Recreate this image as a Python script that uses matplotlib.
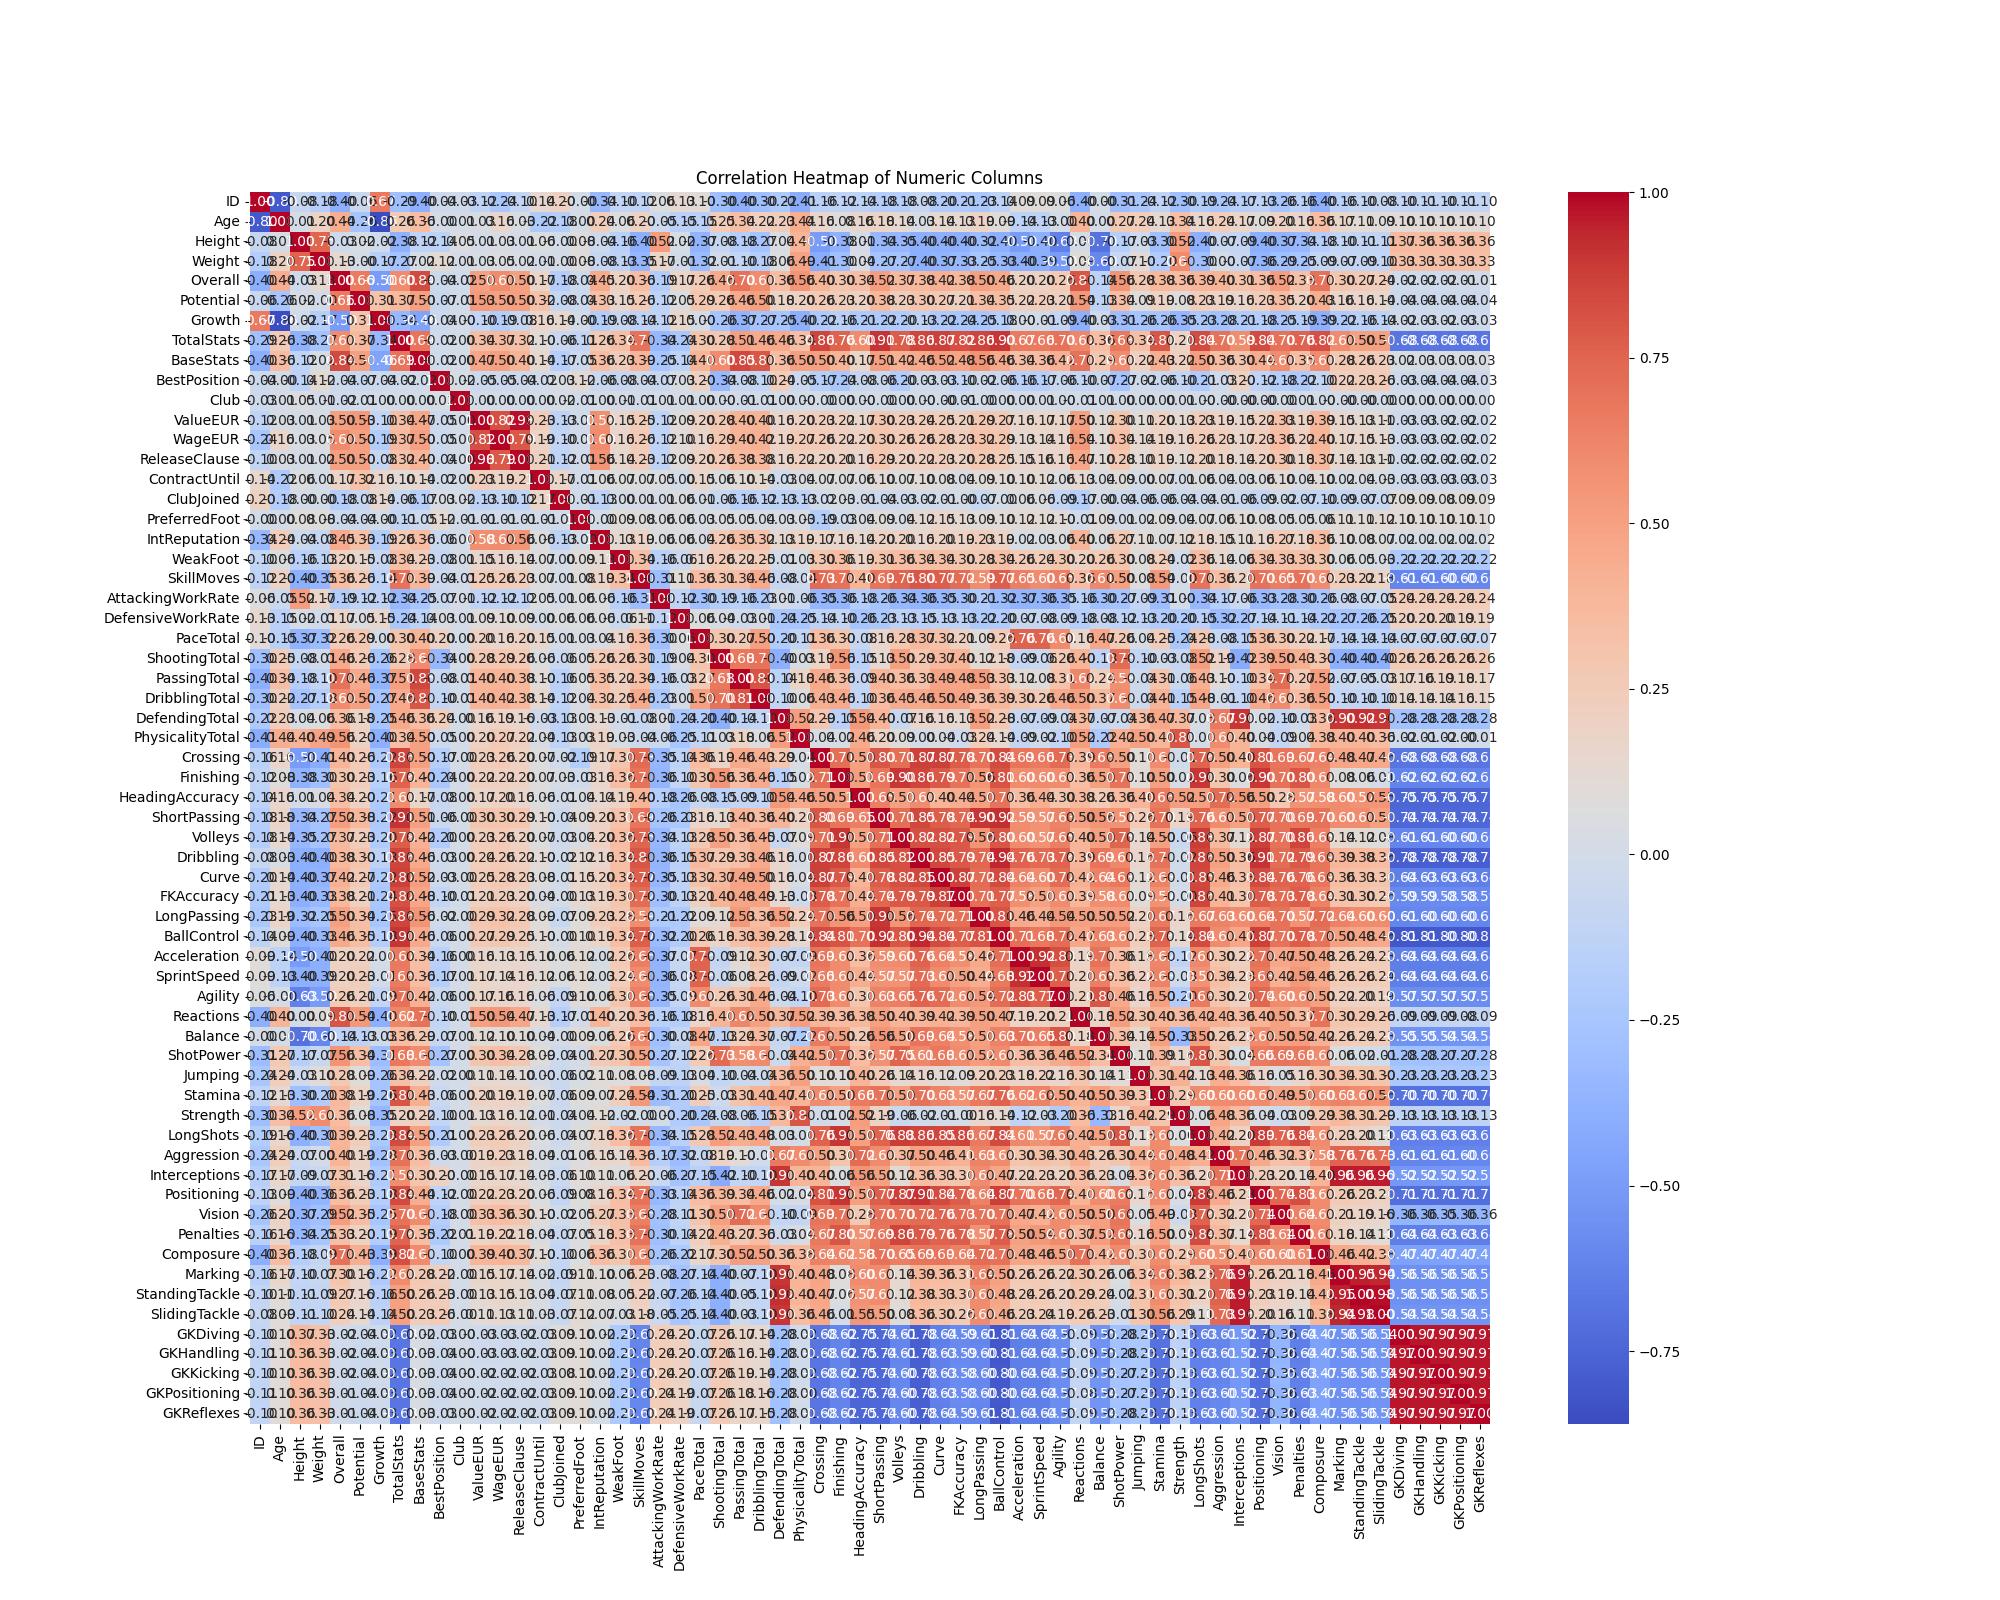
import numpy as np
import pandas as pd
import matplotlib
matplotlib.use('Agg')
import matplotlib.pyplot as plt
import seaborn as sns

columns = ['ID', 'Age', 'Height', 'Weight', 'Overall', 'Potential', 'Growth', 'TotalStats', 'BaseStats',
           'BestPosition', 'Club', 'ValueEUR', 'WageEUR', 'ReleaseClause', 'ContractUntil', 'ClubJoined',
           'PreferredFoot', 'IntReputation', 'WeakFoot', 'SkillMoves', 'AttackingWorkRate', 'DefensiveWorkRate',
           'PaceTotal', 'ShootingTotal', 'PassingTotal', 'DribblingTotal', 'DefendingTotal', 'PhysicalityTotal',
           'Crossing', 'Finishing', 'HeadingAccuracy', 'ShortPassing', 'Volleys', 'Dribbling', 'Curve',
           'FKAccuracy', 'LongPassing', 'BallControl', 'Acceleration', 'SprintSpeed', 'Agility', 'Reactions',
           'Balance', 'ShotPower', 'Jumping', 'Stamina', 'Strength', 'LongShots', 'Aggression', 'Interceptions',
           'Positioning', 'Vision', 'Penalties', 'Composure', 'Marking', 'StandingTackle', 'SlidingTackle',
           'GKDiving', 'GKHandling', 'GKKicking', 'GKPositioning', 'GKReflexes']

# Upper triangle of the correlation table, one list per row.
# Each list starts just right of the diagonal.
r00 = [-0.80,-0.08,-0.18,-0.40,-0.06,0.67,-0.29,-0.40,-0.04,-0.03,
       -0.12,-0.24,-0.10,0.14,0.20,-0.00,-0.34,-0.10,-0.12,0.06,
       0.13,0.10,-0.30,-0.40,-0.30,-0.22,-0.41,-0.16,-0.12,-0.14,
       -0.18,-0.18,-0.08,-0.20,-0.21,-0.23,-0.14,0.09,0.09,0.06,
       -0.40,-0.00,-0.31,-0.24,-0.12,-0.30,-0.19,-0.24,-0.17,-0.13,
       -0.26,-0.16,-0.40,-0.16,-0.10,-0.08,-0.10,-0.11,-0.10,-0.11,-0.10]
r01 = [0.01,0.20,0.44,-0.26,-0.86,0.26,0.36,-0.00,0.01,
       0.03,0.16,0.03,-0.22,-0.18,0.00,0.24,0.06,0.20,-0.05,
       -0.15,-0.15,0.25,0.34,0.22,0.23,0.44,0.16,0.08,0.16,
       0.18,0.14,0.03,0.14,0.13,0.19,0.09,-0.14,-0.13,-0.00,
       0.40,0.00,0.27,0.24,0.13,0.34,0.16,0.24,0.17,0.09,
       0.20,0.16,0.36,0.17,0.11,0.09,0.10,0.10,0.10,0.10,0.10]
r02 = [0.75,-0.03,0.02,-0.02,-0.38,-0.12,-0.14,0.05,
       0.01,0.03,0.01,0.06,-0.00,0.08,-0.04,-0.16,-0.40,0.52,
       0.02,-0.37,-0.08,-0.18,-0.27,0.04,0.40,-0.50,-0.38,0.01,
       -0.34,-0.35,-0.40,-0.40,-0.40,-0.32,-0.40,-0.50,-0.40,-0.63,
       0.00,-0.70,-0.17,-0.03,-0.30,0.52,-0.40,-0.07,-0.09,-0.40,
       -0.37,-0.34,-0.18,-0.10,-0.11,-0.11,0.37,0.36,0.36,0.36,0.36]
r03 = [0.13,-0.00,-0.17,-0.27,0.02,0.12,0.01,
       0.03,0.05,0.02,0.01,-0.00,0.08,-0.08,-0.13,-0.35,0.17,
       -0.01,-0.32,-0.01,-0.10,-0.18,0.06,0.49,-0.41,-0.30,0.04,
       -0.27,-0.27,-0.40,-0.37,-0.33,-0.25,-0.33,-0.40,-0.39,-0.50,
       0.09,-0.60,-0.07,0.10,-0.20,0.60,-0.30,0.00,-0.07,-0.36,
       -0.29,-0.25,-0.09,-0.07,-0.09,-0.10,0.33,0.33,0.33,0.33,0.33]
r04 = [0.66,-0.50,0.60,0.84,-0.04,-0.02,
       0.50,0.60,0.50,0.17,-0.18,-0.04,0.45,0.20,0.36,-0.19,
       0.17,0.26,0.46,0.70,0.60,0.36,0.56,0.40,0.30,0.34,
       0.52,0.37,0.38,0.42,0.38,0.50,0.46,0.20,0.20,0.26,
       0.80,-0.14,0.56,0.28,0.38,0.36,0.39,0.40,0.31,0.36,
       0.52,0.33,0.70,0.30,0.27,0.24,-0.02,-0.02,-0.02,-0.01,-0.01]
r05 = [0.31,0.37,0.50,-0.07,-0.01,
       0.53,0.50,0.50,0.32,-0.08,-0.04,0.33,0.15,0.26,-0.12,
       0.05,0.29,0.26,0.46,0.50,0.18,0.20,0.26,0.23,0.20,
       0.38,0.23,0.30,0.27,0.21,0.34,0.35,0.22,0.23,0.21,
       0.54,-0.13,0.34,0.09,0.19,0.08,0.23,0.19,0.16,0.23,
       0.35,0.20,0.43,0.16,0.16,0.14,-0.04,-0.04,-0.04,-0.04,-0.04]
r06 = [-0.34,-0.46,-0.04,0.00,
       -0.10,-0.19,-0.08,0.16,0.14,-0.00,-0.19,-0.08,-0.14,-0.12,
       0.15,0.00,-0.26,-0.37,-0.27,-0.25,-0.40,-0.22,-0.16,-0.21,
       -0.22,-0.20,-0.13,-0.22,-0.24,-0.25,-0.18,0.00,-0.01,-0.09,
       -0.40,-0.03,-0.31,-0.26,-0.26,-0.35,-0.23,-0.28,-0.21,-0.18,
       -0.25,-0.19,-0.39,-0.22,-0.16,-0.14,-0.02,-0.03,-0.02,-0.03,-0.03]
r07 = [0.69,-0.02,0.00,
       0.34,0.37,0.32,0.10,-0.06,-0.11,0.26,0.34,0.70,-0.34,
       -0.24,0.30,0.28,0.51,0.46,0.46,0.34,0.86,0.76,0.60,
       0.91,0.78,0.86,0.87,0.82,0.86,0.90,0.67,0.66,0.70,
       0.62,0.36,0.68,0.34,0.80,0.20,0.84,0.70,0.59,0.84,
       0.70,0.76,0.82,0.60,0.50,0.50,-0.68,-0.68,-0.68,-0.68,-0.68]
r08 = [-0.02,0.00,
       0.47,0.50,0.40,0.14,-0.17,-0.05,0.36,0.23,0.39,-0.25,
       -0.14,0.40,0.60,0.85,0.80,0.36,0.50,0.50,0.40,0.17,
       0.51,0.42,0.46,0.52,0.48,0.56,0.46,0.34,0.36,0.42,
       0.70,0.29,0.60,0.22,0.43,0.22,0.50,0.36,0.30,0.44,
       0.60,0.35,0.60,0.28,0.26,0.23,0.02,0.03,0.03,0.03,0.03]
r09 = [0.02,
       -0.05,-0.05,-0.04,-0.02,0.03,0.12,-0.06,-0.08,-0.04,-0.07,
       0.03,0.20,-0.34,-0.08,-0.10,0.24,-0.05,-0.17,-0.24,-0.08,
       -0.06,-0.20,-0.03,-0.03,-0.10,-0.02,-0.06,-0.16,-0.17,-0.06,
       -0.10,-0.07,-0.27,-0.02,-0.06,-0.10,-0.21,-0.03,0.20,-0.12,
       -0.18,-0.22,-0.10,0.22,0.23,0.26,-0.03,-0.04,-0.04,-0.04,-0.03]
r10 = [0.00,0.00,0.00,0.00,0.02,-0.01,0.00,0.01,-0.01,0.01,
       0.01,0.00,0.00,-0.01,-0.01,0.00,0.00,-0.00,0.00,0.00,
       -0.00,0.00,0.00,-0.00,-0.01,-0.00,0.00,0.00,0.01,0.00,
       -0.01,0.01,0.00,0.00,0.00,0.01,0.00,-0.00,-0.00,-0.00,
       -0.00,0.01,0.00,-0.00,-0.00,-0.00,0.00,0.00,0.00,0.00,0.00]
r11 = [0.82,0.98,0.23,-0.13,-0.01,0.58,0.15,0.25,-0.12,
       0.09,0.20,0.28,0.40,0.40,0.16,0.20,0.23,0.22,0.17,
       0.30,0.23,0.24,0.25,0.21,0.29,0.27,0.16,0.17,0.17,
       0.50,0.12,0.30,0.11,0.20,0.13,0.23,0.19,0.15,0.22,
       0.33,0.19,0.39,0.15,0.13,0.11,-0.03,-0.03,-0.02,-0.02,-0.02]
r12 = [0.79,0.19,-0.10,-0.01,0.60,0.16,0.26,-0.12,
       0.10,0.16,0.29,0.40,0.42,0.19,0.27,0.26,0.22,0.20,
       0.30,0.26,0.26,0.28,0.23,0.32,0.29,0.13,0.14,0.16,
       0.54,0.10,0.34,0.14,0.19,0.16,0.26,0.23,0.17,0.23,
       0.36,0.22,0.40,0.17,0.15,0.13,-0.03,-0.03,-0.02,-0.02,-0.02]
r13 = [0.21,-0.12,-0.01,0.56,0.14,0.23,-0.12,
       0.09,0.20,0.26,0.38,0.38,0.16,0.22,0.20,0.20,0.16,
       0.29,0.20,0.22,0.23,0.20,0.28,0.25,0.15,0.16,0.16,
       0.47,0.10,0.28,0.10,0.19,0.12,0.20,0.18,0.14,0.20,
       0.30,0.18,0.37,0.14,0.13,0.11,-0.02,-0.02,-0.02,-0.02,-0.02]
r14 = [0.17,-0.01,0.06,0.07,0.07,0.05,
       0.00,0.15,0.06,0.10,0.14,-0.03,0.04,0.07,0.07,0.06,
       0.10,0.07,0.10,0.08,0.04,0.09,0.10,0.10,0.12,0.06,
       0.13,0.04,0.09,0.00,0.07,0.01,0.06,0.04,0.03,0.06,
       0.10,0.04,0.10,0.02,0.04,0.03,-0.03,-0.03,-0.03,-0.03,-0.03]
r15 = [-0.01,-0.13,0.00,0.01,0.01,
       0.06,0.01,-0.06,-0.16,-0.12,-0.13,-0.13,-0.02,0.03,-0.01,
       -0.04,-0.03,-0.02,-0.01,-0.00,-0.07,-0.00,0.06,0.06,-0.09,
       -0.17,-0.00,-0.04,-0.06,-0.06,-0.04,-0.04,-0.01,-0.06,-0.09,
       -0.02,-0.07,-0.10,-0.09,-0.07,-0.07,0.09,0.09,0.08,0.09,0.09]
r16 = [-0.00,0.09,0.08,0.06,
       0.06,0.03,0.05,0.05,0.04,0.03,0.03,-0.19,-0.03,0.04,
       0.09,0.04,0.12,0.15,0.13,0.09,0.10,0.12,0.12,0.10,
       -0.01,0.09,0.01,0.02,0.09,0.04,0.07,0.06,0.10,0.08,
       0.05,0.05,0.06,0.11,0.11,0.12,0.10,0.10,0.10,0.10,0.10]
r17 = [0.13,0.19,0.06,
       0.06,0.04,0.26,0.35,0.32,0.13,0.19,0.17,0.16,0.14,
       0.20,0.20,0.16,0.20,0.19,0.23,0.19,0.02,0.03,0.06,
       0.40,0.06,0.27,0.11,0.07,0.12,0.18,0.15,0.11,0.16,
       0.27,0.18,0.36,0.10,0.08,0.07,0.02,0.02,0.02,0.02,0.02]
r18 = [0.34,-0.16,
       -0.06,0.16,0.26,0.22,0.25,-0.01,0.03,0.30,0.36,0.19,
       0.31,0.36,0.34,0.34,0.30,0.28,0.34,0.26,0.24,0.30,
       0.20,0.26,0.30,0.08,0.24,-0.02,0.36,0.14,0.06,0.34,
       0.33,0.33,0.30,0.06,0.05,0.03,-0.22,-0.22,-0.22,-0.22,-0.22]
r19 = [-0.31,
       0.11,0.36,0.31,0.34,0.46,-0.08,-0.04,0.73,0.70,0.40,
       0.69,0.75,0.80,0.77,0.72,0.59,0.77,0.65,0.60,0.65,
       0.36,0.61,0.50,0.08,0.54,-0.00,0.70,0.36,0.20,0.70,
       0.65,0.70,0.60,0.23,0.22,0.18,-0.61,-0.61,-0.60,-0.60,-0.60]
r20 = [-0.12,-0.30,-0.19,-0.16,-0.23,0.01,-0.06,-0.35,-0.36,-0.18,
       -0.26,-0.34,-0.36,-0.35,-0.30,-0.21,-0.32,-0.37,-0.36,-0.35,
       -0.16,-0.30,-0.27,-0.09,-0.31,0.00,-0.34,-0.17,-0.06,-0.33,
       -0.28,-0.30,-0.26,-0.08,-0.07,-0.05,0.24,0.24,0.24,0.24,0.24]
r21 = [0.06,0.04,-0.03,0.01,-0.24,-0.25,-0.14,-0.10,-0.26,
       -0.23,-0.13,-0.15,-0.13,-0.13,-0.22,-0.20,-0.07,-0.08,-0.09,
       -0.18,-0.08,-0.12,-0.13,-0.20,-0.20,-0.15,-0.32,-0.27,-0.14,
       -0.11,-0.14,-0.22,-0.27,-0.26,-0.25,0.20,0.20,0.20,0.19,0.19]
r22 = [0.30,0.27,0.50,-0.20,-0.11,0.36,0.30,-0.08,
       0.16,0.28,0.37,0.32,0.21,0.09,0.26,0.76,0.76,0.60,
       0.16,0.47,0.26,0.04,0.25,-0.24,0.28,-0.08,-0.15,0.36,
       0.30,0.22,0.17,-0.14,-0.14,-0.14,-0.07,-0.07,-0.07,-0.07,-0.07]
r23 = [0.68,0.70,-0.40,0.03,0.19,0.56,-0.15,
       0.13,0.50,0.29,0.37,0.40,0.12,0.18,-0.09,-0.06,0.26,
       0.40,-0.13,0.73,-0.10,-0.03,-0.08,0.52,0.19,-0.42,0.39,
       0.50,0.43,0.30,-0.40,-0.40,-0.40,0.26,0.26,0.26,0.26,0.26]
r24 = [0.81,-0.14,0.18,0.46,0.36,-0.09,
       0.40,0.36,0.33,0.49,0.48,0.53,0.33,0.12,0.08,0.31,
       0.62,0.24,0.58,-0.04,0.31,-0.06,0.43,0.10,-0.10,0.34,
       0.72,0.27,0.52,-0.07,-0.05,-0.03,0.17,0.16,0.19,0.18,0.17]
r25 = [-0.10,0.06,0.43,0.46,-0.10,
       0.36,0.45,0.46,0.50,0.49,0.36,0.39,0.30,0.26,0.46,
       0.50,0.37,0.60,-0.04,0.41,-0.15,0.48,-0.01,-0.10,0.46,
       0.60,0.36,0.50,-0.10,-0.10,-0.10,0.14,0.14,0.14,0.16,0.15]
r26 = [0.52,0.29,-0.15,0.54,
       0.40,-0.07,0.16,0.16,0.13,0.52,0.28,-0.07,-0.09,-0.04,
       0.37,-0.07,-0.04,0.36,0.47,0.37,0.03,0.67,0.90,0.02,
       -0.10,-0.03,0.36,0.90,0.92,0.90,-0.28,-0.28,-0.28,-0.28,-0.28]
r27 = [0.04,0.02,0.46,
       0.20,0.09,0.00,0.04,-0.03,0.24,0.14,-0.09,-0.02,-0.10,
       0.52,-0.22,0.42,0.50,0.40,0.80,0.00,0.60,0.40,0.04,
       -0.09,0.04,0.38,0.40,0.40,0.36,-0.02,-0.01,-0.02,-0.00,-0.01]
r28 = [0.71,0.50,
       0.80,0.71,0.87,0.87,0.78,0.70,0.84,0.69,0.66,0.73,
       0.39,0.66,0.50,0.10,0.60,-0.01,0.76,0.50,0.40,0.81,
       0.69,0.67,0.64,0.48,0.47,0.46,-0.68,-0.68,-0.68,-0.68,-0.68]
r29 = [0.51,
       0.69,0.90,0.86,0.79,0.70,0.56,0.81,0.60,0.60,0.60,
       0.36,0.50,0.70,0.10,0.50,0.02,0.90,0.30,0.06,0.90,
       0.70,0.80,0.62,0.08,0.06,0.01,-0.62,-0.62,-0.62,-0.62,-0.62]
r30 = [0.65,0.50,0.60,0.40,0.44,0.50,0.70,0.36,0.44,0.30,
       0.38,0.26,0.36,0.40,0.66,0.52,0.50,0.72,0.56,0.50,
       0.28,0.57,0.58,0.60,0.57,0.55,-0.75,-0.75,-0.75,-0.75,-0.75]
r31 = [0.71,0.85,0.78,0.74,0.90,0.92,0.59,0.57,0.63,
       0.50,0.56,0.57,0.26,0.70,0.19,0.76,0.60,0.50,0.77,
       0.70,0.69,0.70,0.60,0.60,0.50,-0.74,-0.74,-0.74,-0.74,-0.74]
r32 = [0.82,0.82,0.79,0.56,0.80,0.60,0.57,0.65,
       0.40,0.50,0.75,0.14,0.50,-0.06,0.88,0.37,0.12,0.87,
       0.70,0.86,0.65,0.14,0.12,0.08,-0.61,-0.61,-0.60,-0.60,-0.60]
r33 = [0.85,0.79,0.74,0.94,0.76,0.73,0.76,
       0.39,0.69,0.61,0.16,0.70,-0.02,0.86,0.50,0.36,0.91,
       0.72,0.79,0.69,0.39,0.38,0.36,-0.78,-0.78,-0.78,-0.78,-0.78]
r34 = [0.87,0.72,0.84,0.64,0.60,0.72,
       0.42,0.64,0.68,0.12,0.63,-0.01,0.85,0.46,0.33,0.84,
       0.76,0.76,0.69,0.36,0.33,0.30,-0.64,-0.63,-0.63,-0.63,-0.64]
r35 = [0.71,0.77,0.58,0.50,0.60,
       0.39,0.58,0.60,0.09,0.57,-0.00,0.86,0.41,0.30,0.78,
       0.73,0.78,0.64,0.31,0.30,0.26,-0.59,-0.59,-0.58,-0.58,-0.59]
r36 = [0.81,0.46,0.44,0.54,
       0.50,0.50,0.52,0.20,0.67,0.16,0.67,0.63,0.60,0.64,
       0.70,0.57,0.72,0.64,0.60,0.60,-0.61,-0.60,-0.60,-0.60,-0.61]
r37 = [0.71,0.68,0.72,
       0.47,0.63,0.60,0.23,0.76,0.14,0.84,0.60,0.47,0.87,
       0.70,0.78,0.70,0.50,0.48,0.46,-0.81,-0.81,-0.80,-0.80,-0.81]
r38 = [0.92,0.83,
       0.19,0.70,0.36,0.18,0.62,-0.12,0.61,0.30,0.22,0.70,
       0.47,0.50,0.48,0.26,0.24,0.23,-0.64,-0.64,-0.64,-0.64,-0.64]
r39 = [0.77,
       0.20,0.65,0.36,0.22,0.63,-0.03,0.57,0.34,0.23,0.68,
       0.42,0.54,0.46,0.26,0.26,0.24,-0.64,-0.64,-0.64,-0.64,-0.64]
r40 = [0.21,0.80,0.46,0.16,0.50,-0.20,0.66,0.30,0.20,0.74,
       0.60,0.60,0.50,0.22,0.20,0.19,-0.57,-0.57,-0.57,-0.57,-0.57]
r41 = [0.18,0.52,0.30,0.40,0.36,0.42,0.43,0.36,0.40,
       0.50,0.37,0.70,0.30,0.29,0.26,-0.09,-0.09,-0.09,-0.08,-0.09]
r42 = [0.34,0.14,0.50,-0.33,0.50,0.26,0.23,0.60,
       0.50,0.52,0.42,0.26,0.24,0.23,-0.55,-0.55,-0.54,-0.54,-0.54]
r43 = [0.11,0.39,0.16,0.80,0.30,0.04,0.66,
       0.69,0.68,0.60,0.06,0.02,-0.01,-0.28,-0.28,-0.27,-0.27,-0.28]
r44 = [0.31,0.42,0.13,0.44,0.36,0.16,
       0.05,0.16,0.30,0.34,0.31,0.30,-0.23,-0.23,-0.23,-0.23,-0.23]
r45 = [0.29,0.60,0.60,0.60,0.60,
       0.49,0.50,0.60,0.63,0.60,0.56,-0.70,-0.70,-0.70,-0.70,-0.70]
r46 = [0.06,0.48,0.36,0.04,
       -0.03,0.09,0.29,0.38,0.31,0.29,-0.13,-0.13,-0.13,-0.13,-0.13]
r47 = [0.42,0.20,0.89,0.76,0.84,0.60,0.23,0.20,0.11,-0.63,-0.63,-0.63,-0.63,-0.63]
r48 = [0.70,0.46,0.32,0.37,0.58,0.76,0.76,0.73,-0.61,-0.61,-0.61,-0.60,-0.60]
r49 = [0.23,0.20,0.14,0.40,0.96,0.96,0.96,-0.52,-0.52,-0.52,-0.52,-0.52]
r50 = [0.74,0.83,0.60,0.26,0.23,0.20,-0.71,-0.71,-0.71,-0.71,-0.71]
r51 = [0.64,0.60,0.21,0.19,0.16,-0.36,-0.36,-0.35,-0.36,-0.36]
r52 = [0.61,0.18,0.14,0.11,-0.64,-0.64,-0.63,-0.63,-0.64]
r53 = [0.46,0.42,0.38,-0.47,-0.47,-0.47,-0.47,-0.47]
r54 = [0.95,0.94,-0.56,-0.56,-0.56,-0.56,-0.56]
r55 = [0.98,-0.56,-0.56,-0.56,-0.56,-0.56]
r56 = [-0.54,-0.54,-0.54,-0.54,-0.54]
r57 = [0.97,0.97,0.97,0.97]
r58 = [0.97,0.97,0.97]
r59 = [0.97,0.97]
r60 = [0.97]

upper_rows = [r00, r01, r02, r03, r04, r05, r06, r07, r08, r09, r10, r11, r12, r13, r14, r15, r16, r17, r18, r19,
              r20, r21, r22, r23, r24, r25, r26, r27, r28, r29, r30, r31, r32, r33, r34, r35, r36, r37, r38, r39,
              r40, r41, r42, r43, r44, r45, r46, r47, r48, r49, r50, r51, r52, r53, r54, r55, r56, r57, r58, r59, r60]

n = len(columns)
corr = np.eye(n)
for i, row in enumerate(upper_rows):
    assert len(row) == n - i - 1, f"row {i} has {len(row)} values"
    corr[i, i + 1:] = row
    corr[i + 1:, i] = row
corr_df = pd.DataFrame(corr, index=columns, columns=columns)

plt.figure(figsize=(20, 16))
sns.heatmap(corr_df, annot=True, fmt='.2f', cmap='coolwarm')
plt.title('Correlation Heatmap of Numeric Columns')
plt.savefig('out.png', dpi=100)
plt.close()
